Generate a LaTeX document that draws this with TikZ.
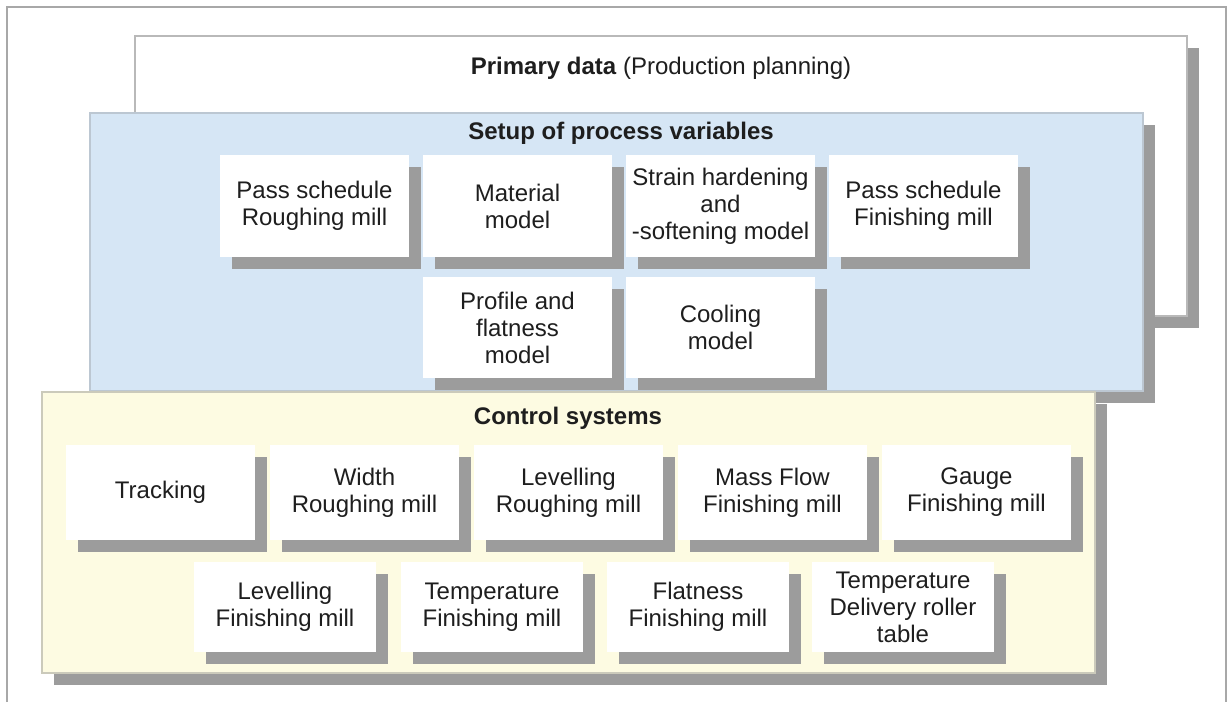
\documentclass[tikz,border=0pt]{standalone}
\usepackage{fontspec}
\setmainfont{Liberation Sans}
\usetikzlibrary{shadows}

\definecolor{shade}{HTML}{9C9C9C}
\definecolor{setupblue}{HTML}{D6E6F5}
\definecolor{ctrlyellow}{HTML}{FDFBE2}
\definecolor{framegray}{HTML}{A8A8A8}
\definecolor{ink}{HTML}{1E1E1E}

\begin{document}
\begin{tikzpicture}[x=0.5pt,y=-0.5pt,
  every node/.style={font=\fontsize{12}{13.5}\selectfont, text=ink, inner sep=0pt},
  offsetshadow/.style={drop shadow={shadow xshift=6pt, shadow yshift=-6pt, fill=shade, opacity=1}},
  layer/.style={rectangle, offsetshadow, line width=0.6pt},
  card/.style 2 args={rectangle, fill=white, align=center, offsetshadow,
                      minimum width=#1, minimum height=#2},
  setupcard/.style={card={94.5pt}{51pt}},
  setupcardlow/.style={card={94.5pt}{50.5pt}},
  ctrlcard/.style={card={94.5pt}{47.5pt}},
  ctrlcardlow/.style={card={91pt}{45pt}},
  title/.style={font=\fontsize{12}{13.5}\selectfont\bfseries}
]
\useasboundingbox (0,0) rectangle (1232,702);

% outer frame (open at the bottom)
\draw[framegray, line width=0.6pt] (7,702) -- (7,7) -- (1226,7) -- (1226,702);

% stacked layers
\node[layer, fill=white, draw=framegray!80, minimum width=526pt, minimum height=140pt]
  (primary) at (661,176) {};
\node[layer, fill=setupblue, draw=setupblue!70!gray, minimum width=526.5pt, minimum height=139pt]
  (setup) at (616.5,252) {};
\node[layer, fill=ctrlyellow, draw=ctrlyellow!60!gray, minimum width=526.5pt, minimum height=140.5pt]
  (control) at (568.5,532.5) {};

% layer titles
\node (primarytitle) at (661,68) {\textbf{Primary data} (Production planning)};
\node[title] (setuptitle) at (621,133) {Setup of process variables};
\node[title] (controltitle) at (568,418) {Control systems};

% setup of process variables
\node[setupcard] (passrough) at (314.5,206) {Pass schedule\\Roughing mill};
\node[setupcard] (material)  at (517.5,206) {Material\\model};
\node[setupcard] (strain)    at (720.5,206) {Strain hardening\\and\\-softening model};
\node[setupcard] (passfin)   at (923.5,206) {Pass schedule\\Finishing mill};
\node[setupcardlow] (profile) at (517.5,327.5) {Profile and\\flatness\\model};
\node[setupcardlow] (cooling) at (720.5,327.5) {Cooling\\model};

% control systems
\node[ctrlcard] (tracking)   at (160.5,492.5) {Tracking};
\node[ctrlcard] (width)      at (364.5,492.5) {Width\\Roughing mill};
\node[ctrlcard] (levelrough) at (568.5,492.5) {Levelling\\Roughing mill};
\node[ctrlcard] (massflow)   at (772.5,492.5) {Mass Flow\\Finishing mill};
\node[ctrlcard] (gauge)      at (976.5,492.5) {Gauge\\Finishing mill};
\node[ctrlcardlow] (levelfin)  at (285,607) {Levelling\\Finishing mill};
\node[ctrlcardlow] (tempfin)   at (492,607) {Temperature\\Finishing mill};
\node[ctrlcardlow] (flatfin)   at (698,607) {Flatness\\Finishing mill};
\node[ctrlcardlow] (tempdeliv) at (903,607) {Temperature\\Delivery roller\\table};
\end{tikzpicture}
\end{document}
